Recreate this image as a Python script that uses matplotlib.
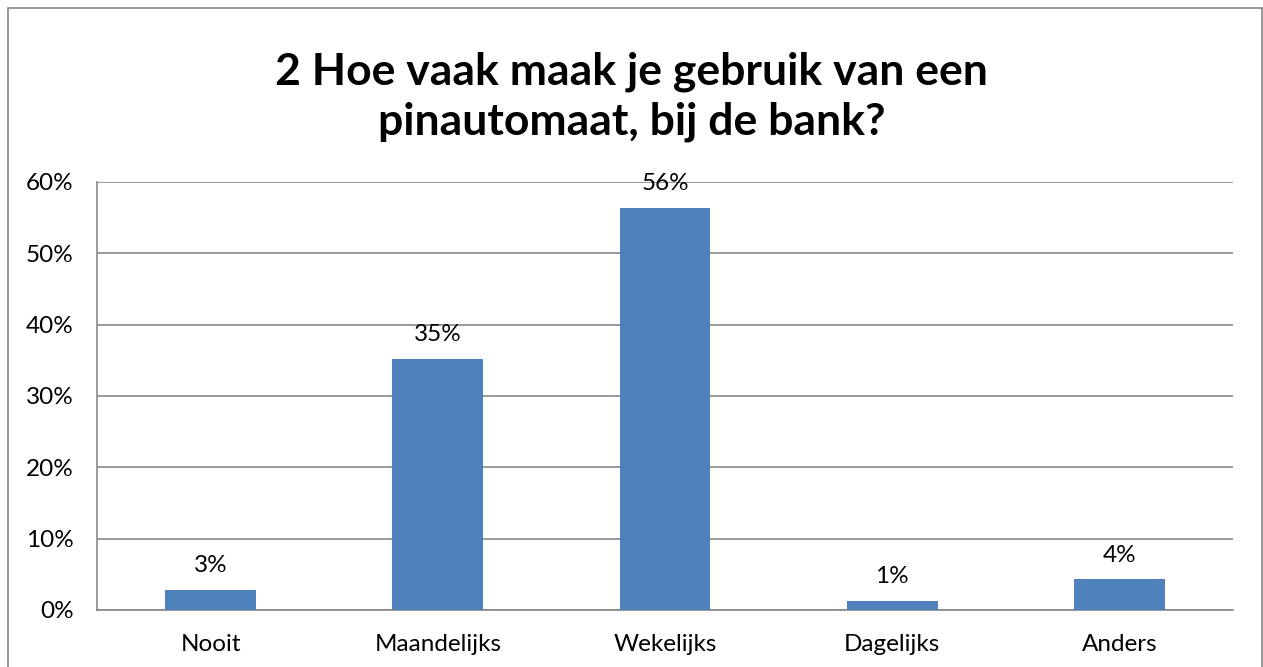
import matplotlib
matplotlib.use('Agg')
from matplotlib import pyplot as plt
from matplotlib.patches import Rectangle
from matplotlib.ticker import PercentFormatter

categorieen = ['Nooit', 'Maandelijks', 'Wekelijks', 'Dagelijks', 'Anders']
waarden = [2.8, 35.2, 56.4, 1.3, 4.3]
labels = ['3%', '35%', '56%', '1%', '4%']
titel = '2 Hoe vaak maak je gebruik van een\npinautomaat, bij de bank?'

plt.rcParams['font.family'] = ['Lato', 'DejaVu Sans']

fig = plt.figure(figsize=(12.63, 6.67), dpi=100)
# rand om de grafiek
fig.patches.append(Rectangle((8 / 1263, -0.01), (1262 - 8) / 1263, 1 - 8 / 667 + 0.01,
                             transform=fig.transFigure, fill=False,
                             edgecolor='#888888', linewidth=1.2))

ax = fig.add_axes([97 / 1263, 1 - 610 / 667, (1233 - 97) / 1263, (610 - 182) / 667])
x = range(len(categorieen))
ax.bar(x, waarden, width=0.4, color='#4F81BD', zorder=3)
for xi, v, lab in zip(x, waarden, labels):
    ax.text(xi, v + 1.9, lab, ha='center', va='bottom', fontsize=17.5, color='black')

ax.set_xlim(-0.5, len(categorieen) - 0.5)
ax.set_ylim(0, 60)
ax.set_yticks(range(0, 61, 10))
ax.yaxis.set_major_formatter(PercentFormatter(decimals=0))
ax.set_xticks(list(x))
ax.set_xticklabels(categorieen)
ax.tick_params(axis='both', length=0, labelsize=17.5, colors='black')
ax.tick_params(axis='y', pad=17)
ax.tick_params(axis='x', pad=17)
ax.grid(axis='y', color='#888888', linewidth=1.2, zorder=0)
for side in ['top', 'right']:
    ax.spines[side].set_visible(False)
for side in ['left', 'bottom']:
    ax.spines[side].set_color('#888888')
    ax.spines[side].set_linewidth(1.2)

fig.text(0.5, 1 - 97 / 667, titel, ha='center', va='center', fontsize=32,
         fontweight='bold', linespacing=1.3)

plt.savefig('out.png', dpi=100)
